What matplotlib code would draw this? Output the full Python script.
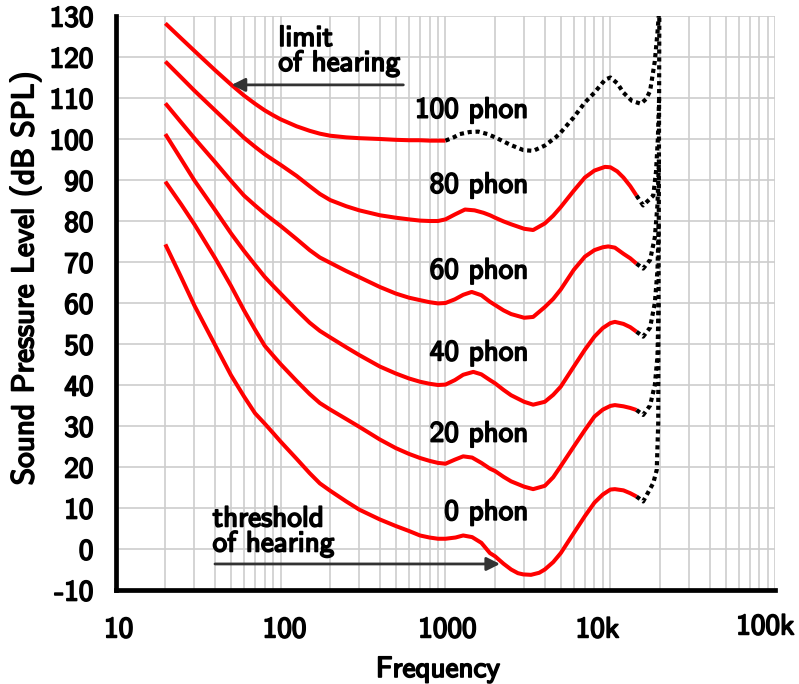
import matplotlib
matplotlib.use('Agg')
import matplotlib.pyplot as plt
import matplotlib.patheffects as pe
from matplotlib.transforms import ScaledTranslation

# ---------------- data ----------------
f_low = [20, 25, 30, 40, 50, 60, 70, 80, 90, 100, 125, 150, 173, 200, 250, 300,
         400, 500, 600, 700, 800, 900, 1000]

f0 = f_low + [1150, 1280, 1450, 1650, 1860, 2000, 2250, 2500, 2750, 2965, 3300,
              3700, 4000, 4500, 5000, 6000, 7000, 8000, 9000, 10000, 10650, 12000,
              13200, 14400]
phon0 = [74.3, 66.2, 59.4, 49.8, 42.4, 37.2, 33.1, 30.6, 28.3, 26.2, 22.0, 18.5,
         16.0, 14.2, 11.6, 9.6, 7.2, 5.6, 4.4, 3.3, 2.8, 2.5, 2.5,
         2.8, 3.3, 2.9, 1.5, -1.0, -1.8, -3.6, -5.0, -5.9, -6.2, -6.3,
         -5.8, -5.0, -3.2, -1.0, 3.9, 8.0, 11.3, 13.3, 14.5, 14.6, 14.3,
         13.6, 12.8]

f20 = f_low + [1140, 1280, 1450, 1650, 1860, 2000, 2250, 2500, 3000, 3400, 4000,
               4500, 5000, 6000, 7000, 8000, 9000, 10000, 10650, 12000, 13200, 14400]
phon20 = [89.6, 84.0, 79.2, 71.0, 64.2, 58.2, 53.5, 49.6, 47.2, 45.1, 41.0, 37.8,
          35.6, 34.0, 31.7, 29.8, 26.7, 24.6, 23.2, 22.2, 21.5, 21.0, 20.8,
          21.8, 22.6, 22.3, 21.0, 19.6, 19.0, 17.6, 16.5, 15.2, 14.6, 15.4,
          17.5, 20.2, 25.0, 29.0, 32.3, 34.0, 34.9, 35.1, 34.8, 34.4, 33.9]

f40 = f_low + [1140, 1280, 1475, 1650, 1860, 2000, 2250, 2500, 3000, 3400, 4000,
               4500, 5000, 6000, 7000, 8000, 9000, 10000, 10650, 12000, 13200, 14400]
phon40 = [101.2, 95.0, 89.9, 82.7, 77.0, 72.7, 69.3, 66.4, 64.2, 62.3, 58.3, 55.2,
          53.2, 51.6, 49.2, 47.3, 44.5, 42.8, 41.6, 40.8, 40.3, 40.0, 40.1,
          41.2, 42.5, 43.2, 42.6, 41.2, 40.4, 38.8, 37.5, 35.9, 35.2, 35.9,
          37.6, 39.6, 44.5, 48.6, 51.8, 53.9, 55.1, 55.4, 54.9, 54.1, 53.0]

f60 = f_low + [1140, 1280, 1442, 1650, 1860, 2000, 2250, 2500, 3000, 3400, 4000,
               4500, 5000, 6000, 7000, 8000, 9000, 9700, 10650, 12000, 13200, 14400]
phon60 = [108.7, 104.0, 100.2, 94.4, 89.8, 86.2, 83.8, 81.8, 80.2, 78.8, 75.6, 72.9,
          71.1, 69.8, 67.8, 66.3, 63.9, 62.3, 61.3, 60.7, 60.2, 59.9, 60.0,
          60.9, 62.0, 62.7, 61.9, 60.3, 59.5, 58.2, 57.3, 56.4, 56.6, 59.0,
          61.0, 63.3, 68.1, 71.3, 72.9, 73.6, 73.8, 73.5, 72.0, 70.9, 69.6]

f80 = f_low + [1140, 1313, 1500, 1700, 1862, 2000, 2250, 2500, 3000, 3400, 4000,
               4500, 5000, 6000, 7000, 8000, 9268, 10000, 11000, 12000, 13200, 14400]
phon80 = [118.9, 115.0, 111.8, 107.0, 103.3, 100.3, 98.1, 96.3, 94.9, 93.7, 91.0, 88.5,
          86.6, 85.1, 83.6, 82.6, 81.4, 80.8, 80.4, 80.1, 80.0, 80.0, 80.4,
          81.6, 82.8, 82.6, 82.0, 81.4, 80.8, 79.9, 79.2, 78.1, 77.8, 79.4,
          81.3, 83.4, 87.4, 90.6, 92.3, 93.2, 93.1, 92.1, 90.6, 88.5, 86.2]

phon100 = [128.2, 124.5, 121.5, 116.8, 113.3, 110.6, 108.6, 107.0, 105.8, 104.8,
           103.1, 102.0, 101.3, 100.8, 100.4, 100.2, 100.0, 99.8, 99.7, 99.7,
           99.6, 99.6, 99.6]          # red part, 20 Hz .. 1 kHz (f_low)

# dotted (extrapolated) parts
t0_f = [14400, 15800, 18200, 19100, 19500, 19800, 19900]
tail0 = [12.8, 11.6, 16.1, 19.3, 30.7, 130.0, 150.0]
t20_f = [14400, 15800, 17400, 18600, 19300, 19590]
tail20 = [33.9, 32.7, 35.0, 40.0, 47.0, 60.0]
t40_f = [14400, 15800, 17400, 18600, 19300, 19650]
tail40 = [53.0, 51.8, 54.0, 60.0, 68.0, 80.0]
t60_f = [14400, 15800, 17400, 18600, 19300, 19700]
tail60 = [69.6, 68.4, 70.5, 76.0, 84.0, 95.0]
t80_f = [14400, 15800, 18200, 18900, 19400, 19740]
tail80 = [86.2, 83.8, 86.2, 92.0, 100.0, 110.0]
t100_f = [1000, 1120, 1222, 1400, 1580, 1800, 2000, 2500, 2965, 3400, 4000, 4690,
          5000, 6000, 7000, 8000, 9300, 10000, 11000, 12000, 13500, 15300, 16500,
          17400, 18600, 19300, 19800]
tail100 = [99.6, 100.4, 101.2, 101.7, 101.8, 101.2, 100.4, 98.5, 97.3, 97.1, 98.4,
           100.5, 101.6, 105.3, 108.9, 111.3, 114.5, 115.0, 113.6, 111.3, 109.3,
           108.6, 109.8, 111.7, 119.0, 126.0, 132.0]

phon_labels = ['0 phon', '20 phon', '40 phon', '60 phon', '80 phon', '100 phon']
label_level = [7.1, 26.2, 46.0, 66.0, 86.9, 105.2]

xticks = [10, 100, 1000, 10000, 100000]
xticklabels = ['10', '100', '1000', '10k', '100k']
yticks = list(range(-10, 131, 10))

# ---------------- drawing ----------------
FONT = 'cmss10'
FS = 21
BOLD = [pe.withStroke(linewidth=1.2, foreground='black')]

fig = plt.figure(figsize=(7.99, 6.84), dpi=100)
ax = fig.add_axes([115.7 / 799, (684 - 590) / 684, (775.3 - 115.7) / 799, (590 - 16) / 684])

ax.set_xscale('log')
ax.set_xlim(10, 100000)
ax.set_ylim(-10, 130)

ax.grid(True, which='both', axis='x', color='#cdcdcd', lw=1.2)
ax.grid(True, which='major', axis='y', color='#cdcdcd', lw=1.2)
ax.set_axisbelow(True)

red = dict(color='#ff0000', lw=2.9, solid_capstyle='butt', solid_joinstyle='round', zorder=3)
dot = dict(color='black', lw=3.0, linestyle=(0, (1, 0.9)), zorder=3)

ax.plot(f0, phon0, **red)
ax.plot(f20, phon20, **red)
ax.plot(f40, phon40, **red)
ax.plot(f60, phon60, **red)
ax.plot(f80, phon80, **red)
ax.plot(f_low, phon100, **red)

ax.plot(t0_f, tail0, **dot)
ax.plot(t20_f, tail20, **dot)
ax.plot(t40_f, tail40, **dot)
ax.plot(t60_f, tail60, **dot)
ax.plot(t80_f, tail80, **dot)
ax.plot(t100_f, tail100, **dot)

for s in ['top', 'right']:
    ax.spines[s].set_visible(False)
for s in ['left', 'bottom']:
    ax.spines[s].set_linewidth(3.4)
    ax.spines[s].set_zorder(5)

ax.set_xticks(xticks)
ax.set_xticklabels(xticklabels)
ax.set_yticks(yticks)
ax.set_yticklabels([str(v) for v in yticks])
ax.tick_params(axis='both', which='both', length=0)
ax.tick_params(axis='x', pad=19)
ax.tick_params(axis='y', pad=16)
for lab in ax.get_xticklabels() + ax.get_yticklabels():
    lab.set_fontfamily(FONT)
    lab.set_fontsize(FS)
    lab.set_path_effects(BOLD)

# individual offsets of the x labels as in the reference
xl = ax.get_xticklabels()
offsets = [(3, 0), (4, 0), (2, 0), (-13, 0), (-10, 3)]
for lab, (dx, dy) in zip(xl, offsets):
    lab.set_transform(lab.get_transform() + ScaledTranslation(dx / 100, dy / 100, fig.dpi_scale_trans))

ax.set_xlabel('Frequency', fontfamily=FONT, fontsize=21, path_effects=BOLD)
ax.xaxis.set_label_coords((438 - 115.7) / 659.6, -(656 - 590) / 574)
ax.xaxis.label.set_va('top')
ax.set_ylabel('Sound Pressure Level (dB SPL)', fontfamily=FONT, fontsize=22.5, path_effects=BOLD)
ax.yaxis.set_label_coords((25 - 115.7) / 659.6, (590 - 278) / 574)
ax.yaxis.label.set_va('center')
ax.yaxis.label.set_ha('center')

txt = dict(fontfamily=FONT, fontsize=FS, color='black', path_effects=BOLD, zorder=4)
for lab, lv in zip(phon_labels, label_level):
    ax.text(3177, lv, lab, ha='right', va='baseline', **txt)

ax.text(97, 122.7, 'limit', ha='left', va='baseline', **txt)
ax.text(97, 116.6, 'of hearing', ha='left', va='baseline', **txt)
ax.text(38.7, 5.5, 'threshold', ha='left', va='baseline', **txt)
ax.text(38.7, -0.6, 'of hearing', ha='left', va='baseline', **txt)

arrow = dict(arrowstyle='-|>', color='#333333', lw=2.0, mutation_scale=20,
             shrinkA=0, shrinkB=0)
ax.annotate('', xy=(50.5, 113.2), xytext=(555, 113.2), arrowprops=arrow, zorder=4)
ax.annotate('', xy=(2140, -3.65), xytext=(40, -3.65), arrowprops=arrow, zorder=4)

fig.savefig('out.png', dpi=100)
